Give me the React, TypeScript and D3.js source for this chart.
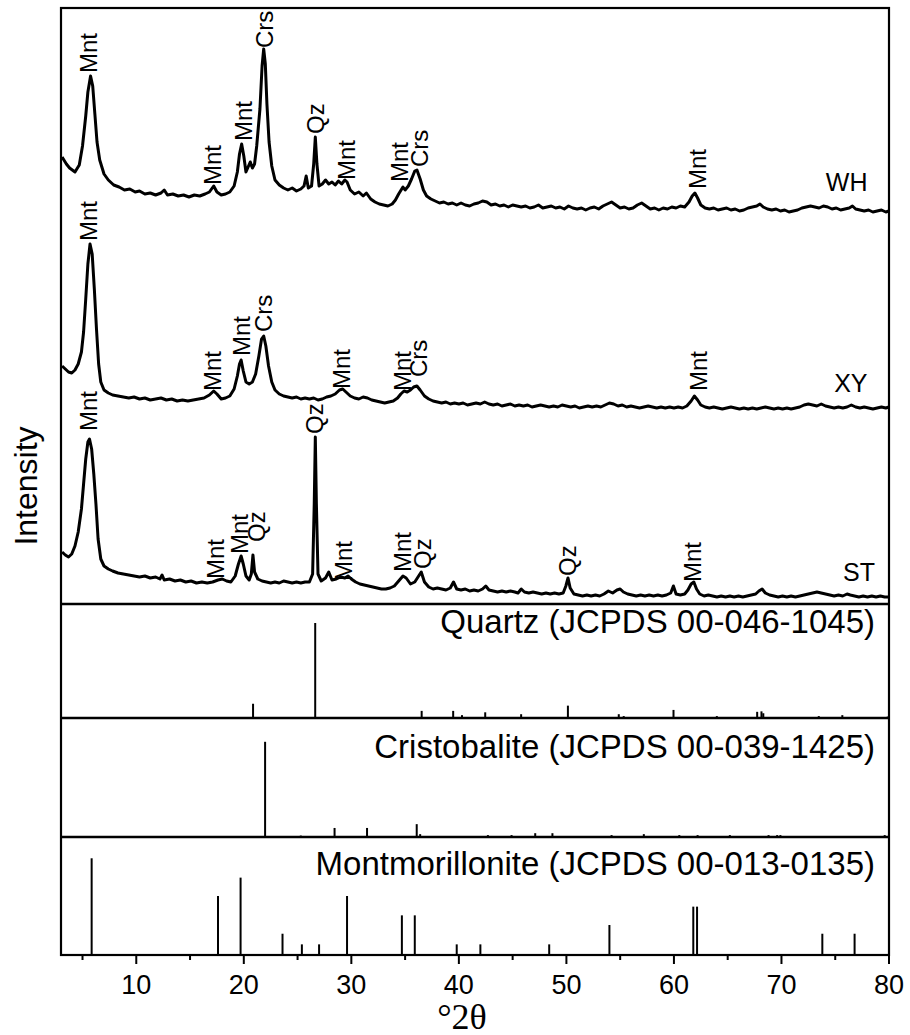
import React from 'react';
import * as d3 from 'd3';

// layout
const W = 910, H = 1035;
const L = 61, R = 889;
const TOP = 8, P1B = 604, P2B = 718, P3B = 837, BOT = 955;
const SANS = '"Liberation Sans", Arial, sans-serif';
const SERIF = '"Liberation Serif", "Times New Roman", serif';

const xTicks = [10, 20, 30, 40, 50, 60, 70, 80];
const xMinorTicks = [5, 15, 25, 35, 45, 55, 65, 75];

// measured patterns, [2theta, intensity (offset a.u.)]
const whPattern: [number, number][] = [
  [3.1,447],[3.5,440],[3.8,436],[4.3,432],[4.7,439],[5.0,458],[5.3,488],[5.5,512],[5.75,528],[5.95,518],[6.15,490],[6.35,462],[6.6,444],[7.0,430],[7.4,424],[7.9,419],[8.4,417],[8.9,414],[9.4,415],[9.9,412],[10.3,413],[10.8,410],[11.3,411],[11.8,409],[12.3,411],[12.6,414],[12.9,409],[13.4,410],[13.9,408],[14.4,409],[14.9,407],[15.4,409],[15.9,408],[16.4,410],[16.8,412],[17.2,418],[17.5,412],[17.9,409],[18.3,410],[18.7,412],[19.1,418],[19.4,432],[19.6,450],[19.8,460],[20.0,448],[20.2,432],[20.4,437],[20.6,442],[20.8,436],[21.0,440],[21.2,458],[21.5,495],[21.7,538],[21.85,555],[22.0,540],[22.15,500],[22.35,462],[22.6,438],[22.9,424],[23.3,419],[23.7,416],[24.1,414],[24.5,416],[24.9,413],[25.3,415],[25.6,418],[25.8,428],[26.0,416],[26.3,418],[26.5,440],[26.65,467],[26.8,440],[27.0,418],[27.3,420],[27.6,424],[27.9,420],[28.2,422],[28.5,419],[28.8,423],[29.1,420],[29.4,424],[29.6,422],[29.9,414],[30.3,410],[30.7,412],[31.1,408],[31.4,411],[31.8,405],[32.2,402],[32.6,400],[33.0,399],[33.4,398],[33.8,400],[34.1,404],[34.4,410],[34.8,417],[35.0,414],[35.3,418],[35.6,425],[35.9,433],[36.1,434],[36.4,425],[36.7,414],[37.0,408],[37.4,405],[37.8,403],[38.2,401],[38.6,402],[39.0,400],[39.4,401],[39.8,399],[40.2,401],[40.6,399],[41.0,398],[41.4,400],[41.8,401],[42.2,403],[42.6,402],[43.0,399],[43.4,400],[43.8,398],[44.2,399],[44.6,397],[45.0,399],[45.4,398],[45.8,397],[46.2,398],[46.6,396],[47.0,397],[47.4,399],[47.8,396],[48.2,397],[48.6,398],[49.0,396],[49.4,397],[49.8,395],[50.2,398],[50.6,396],[51.0,395],[51.4,396],[51.8,394],[52.2,396],[52.6,397],[53.0,395],[53.4,398],[53.8,400],[54.2,402],[54.6,399],[55.0,396],[55.4,397],[55.8,395],[56.2,396],[56.6,399],[57.0,401],[57.4,398],[57.8,395],[58.2,396],[58.6,394],[59.0,396],[59.4,395],[59.8,397],[60.2,396],[60.6,398],[61.0,397],[61.4,402],[61.7,408],[61.95,411],[62.2,406],[62.5,399],[62.9,396],[63.3,395],[63.7,396],[64.1,394],[64.5,395],[64.9,396],[65.3,394],[65.7,395],[66.1,393],[66.5,394],[66.9,396],[67.3,397],[67.7,398],[68.0,400],[68.3,397],[68.7,395],[69.1,394],[69.5,395],[69.9,393],[70.3,394],[70.7,392],[71.1,393],[71.5,394],[71.9,396],[72.3,397],[72.7,398],[73.1,397],[73.5,396],[73.9,398],[74.3,397],[74.7,395],[75.1,396],[75.5,394],[75.9,395],[76.3,396],[76.6,398],[76.9,395],[77.3,394],[77.7,393],[78.1,394],[78.5,392],[78.9,393],[79.3,394],[79.7,392],[80.0,393],
];

const xyPattern: [number, number][] = [
  [3.1,238],[3.4,235],[3.7,232],[4.0,231],[4.3,234],[4.6,240],[4.9,252],[5.1,272],[5.3,305],[5.5,340],[5.7,360],[5.9,350],[6.1,315],[6.3,275],[6.5,240],[6.7,222],[7.0,214],[7.4,211],[7.8,209],[8.3,208],[8.8,207],[9.3,206],[9.8,207],[10.3,205],[10.8,206],[11.3,204],[11.8,205],[12.3,206],[12.8,204],[13.3,205],[13.8,203],[14.3,204],[14.8,203],[15.3,204],[15.8,205],[16.3,206],[16.8,209],[17.2,213],[17.5,210],[17.9,205],[18.3,206],[18.7,208],[19.1,215],[19.4,228],[19.6,240],[19.75,244],[19.95,233],[20.2,222],[20.5,220],[20.8,222],[21.1,230],[21.4,248],[21.65,265],[21.85,268],[22.05,258],[22.3,238],[22.6,222],[22.9,214],[23.3,210],[23.7,208],[24.1,207],[24.5,206],[24.9,207],[25.3,205],[25.7,206],[26.1,205],[26.5,206],[26.9,204],[27.3,205],[27.7,207],[28.1,208],[28.5,210],[28.9,214],[29.2,215],[29.5,212],[29.9,208],[30.3,206],[30.7,205],[31.1,207],[31.5,206],[31.9,204],[32.3,203],[32.7,202],[33.1,201],[33.5,202],[33.9,203],[34.3,206],[34.6,210],[34.9,213],[35.2,212],[35.5,214],[35.8,217],[36.1,218],[36.4,214],[36.8,208],[37.2,205],[37.6,203],[38.0,202],[38.4,201],[38.8,202],[39.2,200],[39.6,201],[40.0,200],[40.4,201],[40.8,199],[41.2,200],[41.6,201],[42.0,200],[42.4,202],[42.8,200],[43.2,199],[43.6,200],[44.0,198],[44.4,199],[44.8,200],[45.2,198],[45.6,199],[46.0,198],[46.4,199],[46.8,197],[47.2,198],[47.6,199],[48.0,198],[48.4,197],[48.8,198],[49.2,197],[49.6,199],[50.0,198],[50.4,197],[50.8,198],[51.2,196],[51.6,197],[52.0,198],[52.4,197],[52.8,198],[53.2,197],[53.6,199],[54.0,201],[54.4,200],[54.8,198],[55.2,199],[55.6,197],[56.0,198],[56.4,197],[56.8,196],[57.2,197],[57.6,198],[58.0,197],[58.4,196],[58.8,197],[59.2,196],[59.6,197],[60.0,196],[60.4,197],[60.8,196],[61.2,198],[61.6,203],[61.9,208],[62.2,204],[62.5,199],[62.9,197],[63.3,196],[63.7,197],[64.1,196],[64.5,195],[64.9,196],[65.3,197],[65.7,196],[66.1,195],[66.5,196],[66.9,195],[67.3,196],[67.7,195],[68.1,196],[68.5,197],[68.9,196],[69.3,195],[69.7,196],[70.1,195],[70.5,196],[70.9,195],[71.3,196],[71.7,197],[72.1,199],[72.5,200],[72.9,199],[73.3,198],[73.7,200],[74.1,198],[74.5,197],[74.9,196],[75.3,197],[75.7,196],[76.1,197],[76.5,199],[76.9,197],[77.3,196],[77.7,197],[78.1,196],[78.5,195],[78.9,196],[79.3,197],[79.7,196],[80.0,197],
];

const stPattern: [number, number][] = [
  [3.1,52],[3.4,49],[3.7,47],[4.0,50],[4.3,58],[4.6,72],[4.9,95],[5.1,120],[5.3,145],[5.5,162],[5.65,165],[5.85,155],[6.05,130],[6.25,100],[6.45,65],[6.7,45],[7.0,38],[7.4,35],[7.8,33],[8.3,31],[8.8,30],[9.3,29],[9.8,28],[10.3,27],[10.8,28],[11.3,26],[11.8,27],[12.2,25],[12.4,29],[12.6,24],[13.1,25],[13.6,23],[14.1,24],[14.6,22],[15.1,23],[15.6,21],[16.1,22],[16.6,21],[17.1,22],[17.6,24],[18.0,25],[18.4,23],[18.8,22],[19.2,28],[19.5,40],[19.75,48],[19.95,40],[20.2,28],[20.5,24],[20.7,30],[20.85,49],[21.0,32],[21.3,25],[21.7,23],[22.1,22],[22.5,21],[22.9,22],[23.3,21],[23.7,23],[24.1,22],[24.5,21],[24.9,22],[25.3,21],[25.7,22],[26.1,22],[26.4,30],[26.55,100],[26.65,167],[26.75,100],[26.9,30],[27.2,23],[27.6,26],[27.9,32],[28.2,24],[28.6,25],[29.0,27],[29.4,26],[29.7,28],[30.0,25],[30.4,22],[30.8,20],[31.2,19],[31.6,18],[32.0,17],[32.4,16],[32.8,15],[33.2,15],[33.6,16],[34.0,18],[34.4,23],[34.8,28],[35.1,26],[35.5,20],[35.9,22],[36.2,27],[36.5,32],[36.8,22],[37.2,17],[37.6,15],[38.0,16],[38.4,15],[38.8,14],[39.2,16],[39.5,22],[39.8,15],[40.2,14],[40.6,15],[41.0,13],[41.4,14],[41.8,13],[42.2,15],[42.5,18],[42.8,14],[43.2,13],[43.6,12],[44.0,13],[44.4,12],[44.8,13],[45.2,12],[45.5,11],[45.8,15],[46.1,12],[46.5,11],[46.9,12],[47.3,11],[47.7,10],[48.1,11],[48.5,10],[48.9,11],[49.3,10],[49.7,11],[49.95,18],[50.15,26],[50.35,16],[50.7,10],[51.1,9],[51.5,8],[51.9,9],[52.3,8],[52.7,9],[53.1,8],[53.5,10],[53.9,13],[54.3,11],[54.7,14],[55.0,15],[55.3,12],[55.7,10],[56.1,9],[56.5,8],[56.9,9],[57.3,8],[57.7,9],[58.1,8],[58.5,9],[58.9,8],[59.3,9],[59.7,11],[59.95,18],[60.2,10],[60.6,9],[61.0,10],[61.3,14],[61.6,20],[61.85,22],[62.1,15],[62.4,10],[62.8,8],[63.2,9],[63.6,8],[64.0,7],[64.4,8],[64.8,7],[65.2,8],[65.6,7],[66.0,8],[66.4,7],[66.8,8],[67.2,9],[67.6,10],[67.9,13],[68.2,15],[68.5,11],[68.9,9],[69.3,8],[69.7,7],[70.1,8],[70.5,7],[70.9,8],[71.3,7],[71.7,8],[72.1,9],[72.5,10],[72.9,11],[73.3,12],[73.7,11],[74.1,10],[74.5,9],[74.9,8],[75.3,9],[75.7,8],[76.1,10],[76.4,9],[76.8,8],[77.2,7],[77.6,8],[78.0,7],[78.4,8],[78.8,7],[79.2,8],[79.6,7],[80.0,7],
];

// phase labels: [2theta, intensity where label starts, text]
const whLabels: [number, number, string][] = [
  [5.5, 531, 'Mnt'], [17.1, 419, 'Mnt'], [20.0, 463, 'Mnt'], [21.9, 556, 'Crs'], [26.7, 470, 'Qz'],
  [29.5, 424, 'Mnt'], [34.5, 422, 'Mnt'], [36.3, 437, 'Crs'], [62.2, 415, 'Mnt'],
];
const xyLabels: [number, number, string][] = [
  [5.5, 363, 'Mnt'], [17.1, 213, 'Mnt'], [19.8, 248, 'Mnt'], [21.8, 272, 'Crs'], [29.1, 215, 'Mnt'],
  [34.7, 213, 'Mnt'], [36.2, 227, 'Crs'], [62.3, 213, 'Mnt'],
];
const stLabels: [number, number, string][] = [
  [5.5, 173, 'Mnt'], [17.4, 25, 'Mnt'], [19.6, 50, 'Mnt'], [21.2, 62, 'Qz'], [26.6, 170, 'Qz'],
  [29.3, 23, 'Mnt'], [34.7, 32, 'Mnt'], [36.6, 35, 'Qz'], [50.1, 28, 'Qz'], [61.7, 22, 'Mnt'],
];
const sampleNames = ['WH', 'XY', 'ST'];

// reference stick patterns: [2theta, relative intensity]
const quartzRef: [number, number][] = [
  [20.86, 15], [26.64, 100], [36.54, 7.5], [39.47, 7.5], [40.29, 3], [42.45, 6], [45.79, 4], [50.14, 13],
  [54.87, 4], [55.33, 2], [57.24, 1], [59.96, 8.5], [63.99, 2], [64.04, 1], [65.79, 1], [67.74, 6.5],
  [68.14, 7], [68.31, 5], [73.47, 2], [75.66, 3], [77.67, 1], [79.88, 1.5],
];
const cristobaliteRef: [number, number][] = [
  [21.98, 100], [25.3, 1.5], [28.44, 9.5], [31.46, 9.5], [36.08, 13.5], [36.4, 3], [38.5, 1], [42.7, 2],
  [44.9, 2], [47.1, 4], [48.7, 4], [52.1, 1], [53.0, 1], [54.2, 2], [56.4, 1], [57.2, 3], [57.6, 1],
  [59.0, 1], [60.5, 2], [62.2, 2], [65.2, 2], [65.7, 1], [67.0, 1], [68.8, 2], [69.6, 2], [69.9, 2],
  [70.7, 1], [72.9, 1], [74.1, 1], [77.5, 1], [78.3, 1], [79.6, 2],
];
const montRef: [number, number][] = [
  [5.85, 100], [17.6, 61], [19.7, 80], [23.6, 22], [25.4, 11], [27.0, 11], [29.6, 61], [34.7, 41],
  [35.9, 41], [39.8, 11], [42.0, 11], [48.4, 11], [54.0, 31], [61.8, 50], [62.15, 50], [73.8, 22], [76.8, 22],
];
const refNames = [
  'Quartz (JCPDS 00-046-1045)',
  'Cristobalite (JCPDS 00-039-1425)',
  'Montmorillonite (JCPDS 00-013-0135)',
];

export default function App() {
  const x = d3.scaleLinear().domain([3, 80]).range([L, R]);
  const y = d3.scaleLinear().domain([0, 596]).range([P1B, TOP]);
  const line = d3.line<[number, number]>().x(d => x(d[0])).y(d => y(d[1]));

  const refPanels = [
    { data: quartzRef, top: P1B, bottom: P2B, max: 120, title: refNames[0], dy: 29 },
    { data: cristobaliteRef, top: P2B, bottom: P3B, max: 125, title: refNames[1], dy: 40 },
    { data: montRef, top: P3B, bottom: BOT, max: 122, title: refNames[2], dy: 38 },
  ];

  const patterns = [
    { data: whPattern, labels: whLabels, name: sampleNames[0], nx: 78.0, ny: 413 },
    { data: xyPattern, labels: xyLabels, name: sampleNames[1], nx: 78.0, ny: 212 },
    { data: stPattern, labels: stLabels, name: sampleNames[2], nx: 78.7, ny: 23 },
  ];

  return (
    <svg width={W} height={H} style={{ position: 'absolute', left: 0, top: 0, background: '#fff' }}>
      <rect x={0} y={0} width={W} height={H} fill="#fff" />

      {patterns.map((p, i) => (
        <g key={i}>
          <path d={line(p.data) || ''} fill="none" stroke="#000" strokeWidth={3} strokeLinejoin="round" />
          {p.labels.map((lb, j) => (
            <text key={j} transform={`translate(${x(lb[0])},${y(lb[1])}) rotate(-90)`} dy="0.36em"
              fontFamily={SANS} fontSize={24} fill="#000">{lb[2]}</text>
          ))}
          <text x={x(p.nx)} y={y(p.ny)} textAnchor="end" fontFamily={SANS} fontSize={25} fill="#000">{p.name}</text>
        </g>
      ))}

      {refPanels.map((rp, i) => {
        const yr = d3.scaleLinear().domain([0, rp.max]).range([rp.bottom, rp.top]);
        return (
          <g key={i}>
            {rp.data.map((d, j) => (
              <line key={j} x1={x(d[0])} x2={x(d[0])} y1={yr(0)} y2={yr(d[1])} stroke="#000" strokeWidth={2} />
            ))}
            <text x={875} y={rp.top + rp.dy} textAnchor="end"
              fontFamily={SANS} fontSize={33} fill="#000">{rp.title}</text>
            <line x1={L} x2={R} y1={rp.top} y2={rp.top} stroke="#000" strokeWidth={2.4} />
          </g>
        );
      })}

      <rect x={L} y={TOP} width={R - L} height={BOT - TOP} fill="none" stroke="#000" strokeWidth={2.2} />

      {xTicks.map(t => (
        <g key={t}>
          <line x1={x(t)} x2={x(t)} y1={BOT} y2={BOT + 9} stroke="#000" strokeWidth={2} />
          <text x={x(t)} y={994} textAnchor="middle" fontFamily={SANS} fontSize={27} fill="#000">{t}</text>
        </g>
      ))}
      {xMinorTicks.map(t => (
        <line key={t} x1={x(t)} x2={x(t)} y1={BOT} y2={BOT + 5} stroke="#000" strokeWidth={2} />
      ))}

      <text x={462} y={1029} textAnchor="middle" fontFamily={SERIF} fontSize={36} fill="#000">°2θ</text>
      <text transform="translate(37,486) rotate(-90)" textAnchor="middle" fontFamily={SANS} fontSize={32} fill="#000">Intensity</text>
    </svg>
  );
}
